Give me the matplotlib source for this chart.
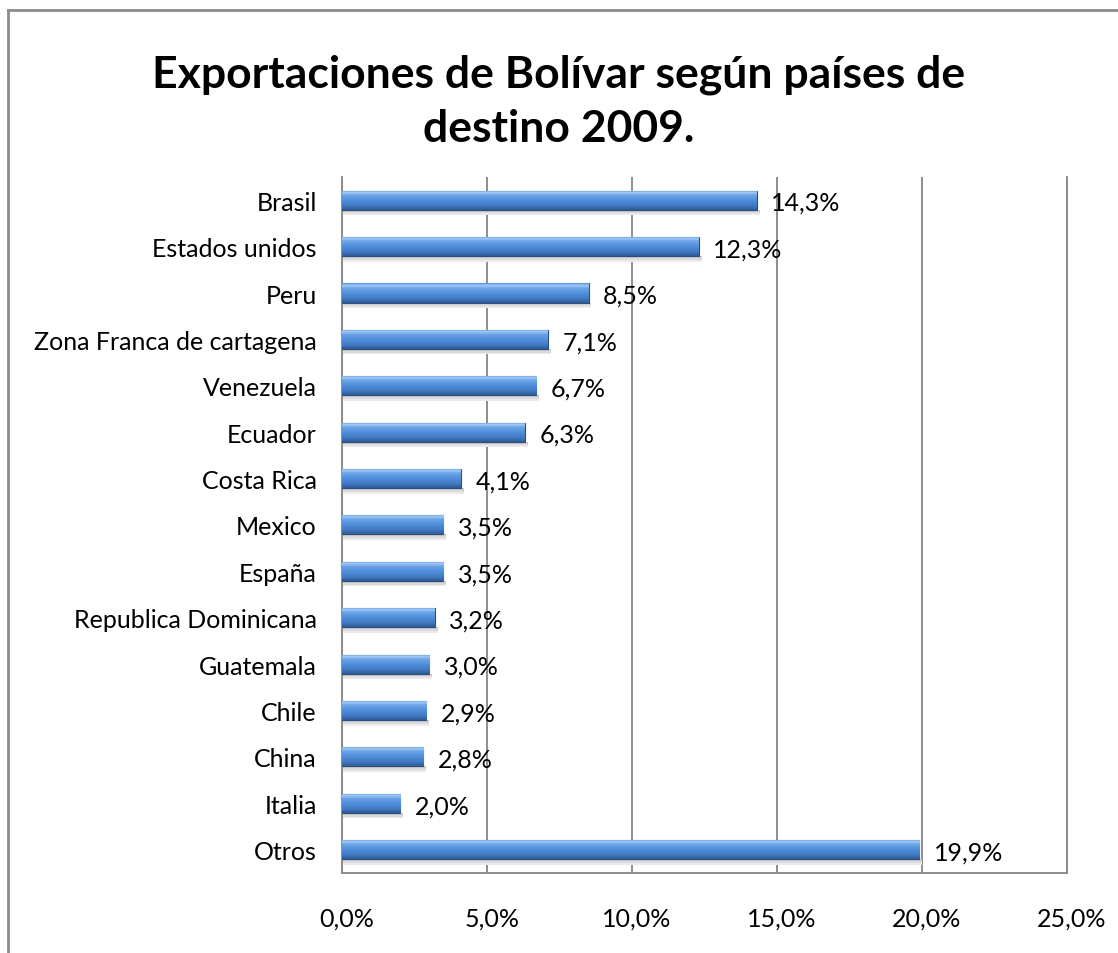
import numpy as np
import matplotlib.pyplot as plt
from matplotlib.colors import LinearSegmentedColormap
from matplotlib.lines import Line2D
from matplotlib.transforms import offset_copy

paises = ["Brasil", "Estados unidos", "Peru", "Zona Franca de cartagena", "Venezuela",
          "Ecuador", "Costa Rica", "Mexico", "España", "Republica Dominicana",
          "Guatemala", "Chile", "China", "Italia", "Otros"]
valores = [14.3, 12.3, 8.5, 7.1, 6.7, 6.3, 4.1, 3.5, 3.5, 3.2, 3.0, 2.9, 2.8, 2.0, 19.9]
xticks = [0, 5, 10, 15, 20, 25]

plt.rcParams['font.family'] = ['Lato', 'DejaVu Sans']

fig = plt.figure(figsize=(11.18, 9.54), dpi=100)
ax = fig.add_axes([0.3059, 0.0839, 0.6485, 0.7295])

ypos = np.arange(len(paises))
bars = ax.barh(ypos, valores, height=0.41, color='#4F81BD', edgecolor='#2A4E80', lw=0.8, zorder=3)

# gradient fill to mimic the bevelled look (row 0 = top of bar)
cmap = LinearSegmentedColormap.from_list(
    'bev', [(0, '#5A92DC'), (0.12, '#A2CBF6'), (0.25, '#6EA5E6'), (0.5, '#5290DC'),
            (0.8, '#4179C2'), (1, '#2F5A96')])
grad = np.linspace(0, 1, 64).reshape(-1, 1)
for b in bars:
    x0, y0, w, h = b.get_x(), b.get_y(), b.get_width(), b.get_height()
    # soft shadow under the bar
    for k, c in enumerate(['#C8C8C8', '#DADADA', '#EAEAEA']):
        ax.add_patch(plt.Rectangle((x0, y0 + h + k * 0.04), w + 0.1, 0.04, color=c, zorder=2, lw=0))
    im = ax.imshow(grad, extent=(x0, x0 + w, y0 + h, y0), cmap=cmap, aspect='auto', zorder=3.5)
    im.set_clip_path(b)

for y, v in zip(ypos, valores):
    ax.text(v + 0.5, y + 0.05, f"{v:.1f}%".replace('.', ','), va='center', ha='left', fontsize=18, zorder=5)

ax.set_xlim(0, 25)
ax.set_ylim(len(paises) - 0.5, -0.5)
ax.set_yticks(ypos)
ax.set_yticklabels(paises, fontsize=18)
ax.set_xticks(xticks)
ax.set_xticklabels([f"{t:.1f}%".replace('.', ',') for t in xticks], fontsize=18)
ax.tick_params(axis='both', length=0)
ax.tick_params(axis='x', pad=24)
ax.tick_params(axis='y', pad=18)
# x labels sit a little to the right of their grid lines
for lab in ax.get_xticklabels():
    lab.set_transform(offset_copy(lab.get_transform(), fig=fig, x=5, units='dots'))

ax.xaxis.grid(True, color='#868686', lw=1.3, zorder=1)
ax.set_axisbelow(True)
ax.spines['top'].set_visible(False)
for s in ['left', 'right', 'bottom']:
    ax.spines[s].set_color('#868686')
    ax.spines[s].set_linewidth(1.3)

fig.suptitle("Exportaciones de Bolívar según países de\ndestino 2009.", fontsize=32,
             fontweight='bold', x=0.5, y=0.943, va='top', linespacing=1.43)

# chart frame (only top and left edges are visible in the crop)
fig.add_artist(Line2D([8 / 1118, 8 / 1118], [0, 1 - 11 / 954], color='#8C8C8C', lw=2, transform=fig.transFigure))
fig.add_artist(Line2D([8 / 1118, 1], [1 - 11 / 954, 1 - 11 / 954], color='#8C8C8C', lw=2, transform=fig.transFigure))

fig.savefig("out.png", dpi=100)
